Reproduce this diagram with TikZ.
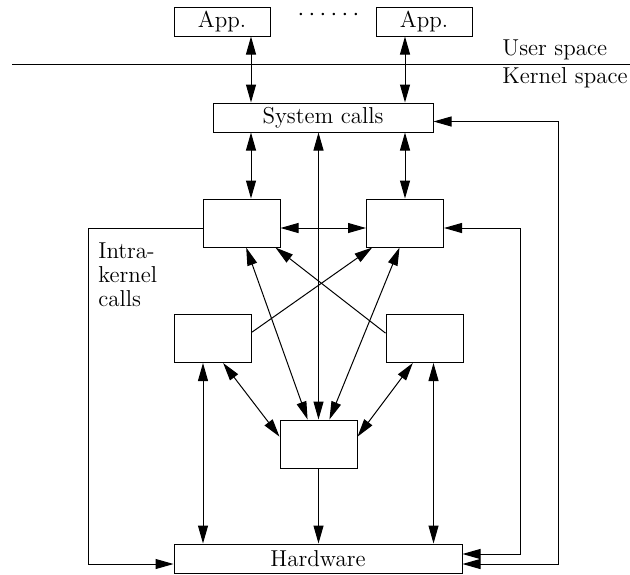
\documentclass[tikz,border=0pt]{standalone}
\usetikzlibrary{arrows.meta,calc}
\begin{document}
\begin{tikzpicture}[x=0.5pt,y=-0.5pt,
  every node/.style={font=\fontsize{11.5}{12}\selectfont},
  blk/.style={draw, line width=0.5pt, inner sep=0pt, minimum width=38.5pt, minimum height=24pt},
  bar/.style={draw, line width=0.5pt, inner sep=0pt, minimum height=14.5pt},
  link/.style={line width=0.5pt},
  tip/.style={-{Triangle[length=9pt,width=5pt]}},
  tips/.style={{Triangle[length=9pt,width=5pt]}-{Triangle[length=9pt,width=5pt]}}]
\useasboundingbox (0,0) rectangle (630,574);

% boxes
\node[bar, minimum width=48pt] (app1) at (222,21.5) {App.};
\node[bar, minimum width=48pt] (app2) at (424,21.5) {App.};
\node[bar, minimum width=110pt] (sys) at (323,117.5) {System calls};
\node[blk] (b1) at (241.5,223) {};
\node[blk] (b2) at (405,223) {};
\node[blk] (c1) at (213,338.5) {};
\node[blk] (c2) at (424.5,338.5) {};
\node[blk] (m) at (318.5,444) {};
\node[bar, minimum width=144pt] (hw) at (318,558.5) {Hardware};

% labels
\node[anchor=base, inner sep=0pt] (dots) at (328.5,20.75)
  {\makebox[5.5pt]{$\cdot$}\makebox[5.5pt]{$\cdot$}\makebox[5.5pt]{$\cdot$}\makebox[5.5pt]{$\cdot$}\makebox[5.5pt]{$\cdot$}\makebox[5.5pt]{$\cdot$}};
\node[anchor=base west, inner sep=0pt] (user) at (502,55) {User space};
\node[anchor=base west, inner sep=0pt] (kern) at (502,83) {Kernel space};
\node[anchor=north west, inner sep=0pt, align=left] (intra) at (98,242) {Intra-\\kernel\\calls};

% helper positions
\coordinate (divL) at (12,64);
\coordinate (divR) at (630,64);
\coordinate (colL) at (251,0);
\coordinate (colR) at (405,0);
\coordinate (colC1) at (203,0);
\coordinate (colC2) at (433.5,0);
\coordinate (rowA) at (0,228);
\coordinate (sysIn) at (0,121.5);
\coordinate (railL) at (88,564);
\coordinate (railM) at (520,554);
\coordinate (railR) at (558,564);

% user/kernel boundary
\draw[link] (divL) -- (divR);

% system call paths
\draw[link,tips] (app1.south -| colL) -- (sys.north -| colL);
\draw[link,tips] (app2.south -| colR) -- (sys.north -| colR);
\draw[link,tips] (sys.south -| colL) -- (b1.north -| colL);
\draw[link,tips] (sys.south -| colR) -- (b2.north -| colR);
\draw[link,tips] (sys.south -| m.north) -- (m.north);
\draw[link,tips] (b1.east |- rowA) -- (b2.west |- rowA);

% intra-kernel calls
\draw[link,tips] ($(b1.south west)!0.56!(b1.south east)$) -- ($(m.north west)!0.36!(m.north east)$);
\draw[link,tips] ($(b2.south west)!0.43!(b2.south east)$) -- ($(m.north west)!0.64!(m.north east)$);
\draw[link,tips] ($(c1.south west)!0.63!(c1.south east)$) -- ($(m.north west)!0.35!(m.south west)$);
\draw[link,tips] ($(c2.south west)!0.35!(c2.south east)$) -- ($(m.north east)!0.35!(m.south east)$);
\draw[link,tip] ($(c1.north east)!0.37!(c1.south east)$) -- ($(b2.south west)!0.08!(b2.south east)$);
\draw[link,tip] ($(c2.north west)!0.39!(c2.south west)$) -- ($(b1.south west)!0.935!(b1.south east)$);

% hardware access
\draw[link,tips] (c1.south -| colC1) -- (hw.north -| colC1);
\draw[link,tips] (c2.south -| colC2) -- (hw.north -| colC2);
\draw[link,tip] (m.south) -- (hw.north -| m.south);

% outer loops
\draw[link,tip] (b1.west |- rowA) -| (railL) -- (hw.west |- railL);
\draw[link,tips] (hw.east |- railM) -- (railM) |- (b2.east |- rowA);
\draw[link,tips] (hw.east |- railR) -- (railR) |- (sys.east |- sysIn);
\end{tikzpicture}
\end{document}
